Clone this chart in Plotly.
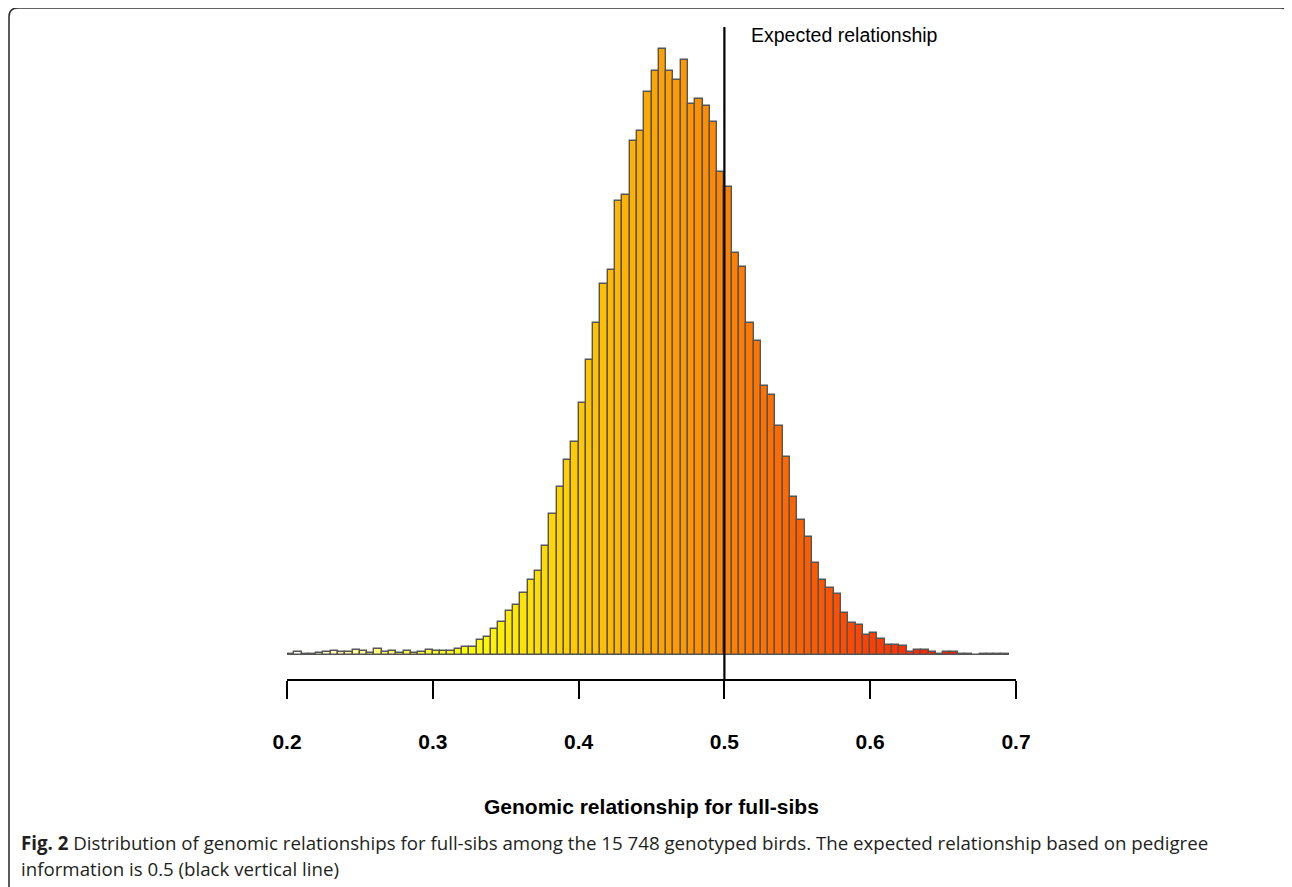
import colorsys
import numpy as np
import plotly.graph_objects as go

# ---- data ----
bin_start = 0.2
bin_width = 0.005
frequency = [
    1.3, 3.3, 1.3, 1.3, 2.3, 3.3, 4.0, 3.0, 3.3, 4.7,
    3.7, 2.3, 5.7, 3.0, 4.3, 2.3, 4.0, 2.0, 3.0, 4.7,
    4.0, 3.5, 3.7, 6.0, 8.2, 8.0, 15.2, 17.7, 25.7, 33.0,
    43.7, 49.7, 62.3, 74.7, 83.3, 109.0, 141.0, 167.7, 194.8, 212.3,
    251.0, 294.5, 330.9, 369.8, 383.7, 452.4, 458.9, 512.5, 522.3, 561.6,
    582.1, 604.5, 582.5, 573.9, 593.5, 549.3, 554.2, 547.3, 531.7, 481.5,
    466.5, 400.7, 387.0, 331.3, 313.0, 268.0, 259.0, 228.7, 197.3, 158.0,
    135.0, 118.0, 91.7, 74.7, 67.0, 60.5, 41.8, 31.8, 30.3, 20.4,
    22.3, 15.7, 10.3, 10.3, 8.7, 3.3, 5.0, 4.7, 2.7, 1.3,
    3.0, 2.7, 1.3, 1.3, 0.3, 1.0, 1.0, 0.7, 0.7,
]
tick_values = [0.2, 0.3, 0.4, 0.5, 0.6, 0.7]
tick_labels = ["0.2", "0.3", "0.4", "0.5", "0.6", "0.7"]
expected_relationship = 0.5
x_title = "Genomic relationship for full-sibs"
line_label = "Expected relationship"
caption_bold = "Fig. 2"
caption_line1 = (" Distribution of genomic relationships for full-sibs among the 15 748 genotyped birds. "
                 "The expected relationship based on pedigree")
caption_line2 = "information is 0.5 (black vertical line)"

n_bins = len(frequency)
bin_left = np.round(bin_start + bin_width * np.arange(n_bins), 4)


# ---- R's heat.colors(n), reversed ----
def heat_colors(n):
    j = n // 4
    i = n - j
    cols = []
    for h in np.linspace(0, 1 / 6, i):
        cols.append(colorsys.hsv_to_rgb(h, 1, 1))
    if j > 0:
        for s in np.linspace(1 - 1 / (2 * j), 1 / (2 * j), j):
            cols.append(colorsys.hsv_to_rgb(1 / 6, s, 1))
    return ["rgb(%d,%d,%d)" % (round(r * 255), round(g * 255), round(b * 255)) for r, g, b in cols]


bar_colors = heat_colors(n_bins)[::-1]

# page offset (browser body margin)
OFF = 8
W, H = 1292, 887
ML, MR, MT, MB = 287 - OFF, 1292 - (1016 - OFF), 27 - OFF, 887 - (679 - OFF)
PW, PH = W - ML - MR, H - MT - MB


def px_x(px):
    return (px - OFF - ML) / PW


def px_y(py):
    return (H - MB - (py - OFF)) / PH


fig = go.Figure()
fig.add_trace(go.Bar(
    x=bin_left,
    y=frequency,
    width=bin_width,
    offset=0,
    marker=dict(color=bar_colors, line=dict(color="#555555", width=1.4)),
    hoverinfo="x+y",
))

fig.add_shape(type="line", xref="x", yref="paper",
              x0=expected_relationship, x1=expected_relationship, y0=0, y1=1,
              line=dict(color="black", width=2.2))

fig.add_annotation(text=line_label, xref="paper", yref="paper",
                   x=px_x(749), y=px_y(35), xanchor="left", yanchor="middle",
                   showarrow=False,
                   font=dict(family="Liberation Sans, Arial", size=19.5, color="black"))

fig.add_annotation(text="<b>" + x_title + "</b>", xref="paper", yref="paper",
                   x=0.5, y=px_y(806), xanchor="center", yanchor="middle",
                   showarrow=False,
                   font=dict(family="Liberation Sans, Arial", size=21, color="black"))

fig.add_annotation(text="<b>" + caption_bold + "</b>" + caption_line1, xref="paper", yref="paper",
                   x=px_x(19), y=px_y(843), xanchor="left", yanchor="middle",
                   showarrow=False,
                   font=dict(family="Open Sans", size=18.7, color="#231f20"))
fig.add_annotation(text=caption_line2, xref="paper", yref="paper",
                   x=px_x(19), y=px_y(869), xanchor="left", yanchor="middle",
                   showarrow=False,
                   font=dict(family="Open Sans", size=18.7, color="#231f20"))

# rounded frame around the figure (bottom edge is off the page)
xl, xr = px_x(9), px_x(1290)
yt, yb = px_y(8), px_y(905)
rx, ry = 9 / PW, 9 / PH
frame_path = (f"M {xl},{yb} L {xl},{yt - ry} Q {xl},{yt} {xl + rx},{yt} "
              f"L {xr - rx},{yt} Q {xr},{yt} {xr},{yt - ry} L {xr},{yb}")
fig.add_shape(type="path", xref="paper", yref="paper", path=frame_path,
              line=dict(color="#333333", width=1.6))

# y range so that 0 sits at the bar baseline
y_top = max(frequency)
base_frac = px_y(655)
top_frac = px_y(49)
span = y_top / (top_frac - base_frac)
y_min = -base_frac * span
y_max = y_min + span

fig.update_layout(
    width=W, height=H,
    margin=dict(l=ML, r=MR, t=MT, b=MB, pad=0),
    paper_bgcolor="white", plot_bgcolor="white",
    showlegend=False,
    bargap=0,
    xaxis=dict(
        range=[0.2, 0.7],
        tickvals=tick_values, ticktext=tick_labels,
        showline=True, linecolor="black", linewidth=1.6,
        ticks="outside", ticklen=18, tickwidth=1.6, tickcolor="black",
        ticklabelstandoff=25,
        tickfont=dict(family="Liberation Sans, Arial", size=21, color="black", weight="bold"),
        showgrid=False, zeroline=False,
    ),
    yaxis=dict(visible=False, range=[y_min, y_max], showgrid=False, zeroline=False),
)

fig.write_html("out.html")
